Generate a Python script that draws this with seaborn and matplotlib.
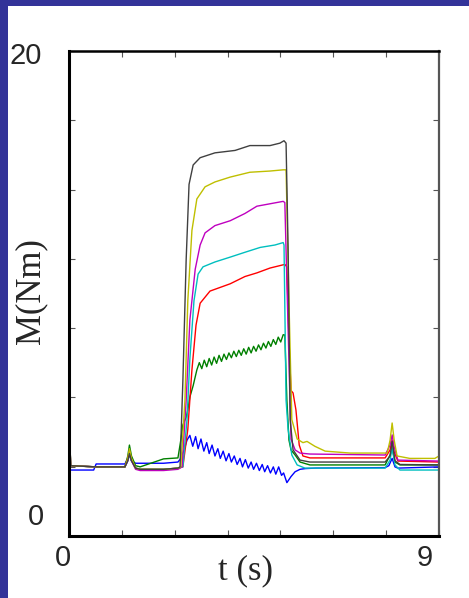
import numpy as np
import pandas as pd
import matplotlib
matplotlib.use("Agg")
import matplotlib.pyplot as plt
from matplotlib.patches import Rectangle
import seaborn as sns

# ---------------- data ----------------
pre_t = [0.0, 0.04, 0.66, 1.36, 1.43, 1.47, 1.52, 1.62, 1.73, 2.30, 2.65]

t_black = pre_t + [2.70, 2.77, 2.85, 2.92, 3.02, 3.19, 3.55, 4.04, 4.40, 4.89, 5.13, 5.23, 5.28,
                   5.33, 5.38, 5.45, 5.62, 5.86, 7.69, 7.81, 7.86, 7.93, 8.05, 9.0]
m_black = [5.0, 2.9, 2.85, 2.85, 3.1, 3.4, 3.1, 2.8, 2.75, 2.75, 2.8,
           2.85, 6.4, 11.4, 14.5, 15.3, 15.6, 15.8, 15.9, 16.1, 16.1, 16.2, 16.3, 16.2,
           11.8, 4.8, 3.55, 3.13, 3.05, 3.05, 3.3, 3.9, 3.1, 2.95, 2.93]

t_yellow = pre_t + [2.72, 2.82, 2.89, 2.99, 3.11, 3.31, 3.55, 3.92, 4.40, 4.89, 5.21, 5.28,
                    5.35, 5.42, 5.55, 5.69, 5.79, 5.98, 6.23, 6.84, 7.74, 7.81, 7.86, 7.91,
                    7.98, 8.29, 8.9, 9.0]
m_yellow = [5.0, 2.9, 2.85, 2.85, 3.2, 3.6, 3.2, 2.8, 2.75, 2.75, 2.8,
            2.85, 5.6, 9.7, 12.6, 13.9, 14.4, 14.6, 14.8, 15.0, 15.05, 15.1, 15.1,
            9.7, 4.8, 4.0, 3.85, 3.9, 3.7, 3.5, 3.42, 3.42, 3.95, 4.66, 3.95,
            3.3, 3.2, 3.2, 3.3]

t_magenta = pre_t + [2.75, 2.85, 2.94, 3.07, 3.19, 3.31, 3.55, 3.92, 4.28, 4.57, 4.89, 5.21,
                     5.25, 5.33, 5.40, 5.50, 5.62, 5.86, 7.69, 7.81, 7.86, 7.91, 8.0, 9.0]
m_magenta = [5.0, 2.9, 2.85, 2.85, 3.1, 3.4, 3.1, 2.75, 2.7, 2.7, 2.75,
             2.85, 5.6, 8.9, 11.0, 12.0, 12.5, 12.8, 13.0, 13.3, 13.6, 13.7, 13.8,
             13.75, 8.5, 4.0, 3.55, 3.42, 3.38, 3.34, 3.75, 4.17, 3.67, 3.13, 3.09]

t_cyan = pre_t + [2.77, 2.87, 2.94, 3.04, 3.14, 3.26, 3.55, 3.92, 4.28, 4.65, 5.01, 5.21,
                  5.23, 5.28, 5.33, 5.42, 5.55, 5.74, 7.69, 7.81, 7.86, 7.93, 8.05, 9.0]
m_cyan = [5.0, 2.9, 2.85, 2.85, 3.1, 3.35, 3.1, 2.8, 2.75, 2.75, 2.8,
          2.85, 4.8, 7.3, 9.7, 10.8, 11.1, 11.3, 11.5, 11.7, 11.9, 12.0, 12.1,
          12.0, 5.6, 4.4, 3.34, 2.93, 2.8, 2.8, 3.13, 3.63, 2.93, 2.72, 2.72]

t_red = pre_t + [2.77, 2.89, 2.99, 3.09, 3.19, 3.43, 3.92, 4.28, 4.57, 4.89, 5.25, 5.30,
                 5.35, 5.40, 5.45, 5.52, 5.60, 5.69, 5.86, 7.69, 7.81, 7.86, 7.91, 8.0, 9.0]
m_red = [5.0, 2.9, 2.85, 2.85, 3.2, 3.5, 3.15, 2.8, 2.75, 2.75, 2.8,
         2.85, 4.4, 6.85, 8.7, 9.6, 10.1, 10.4, 10.7, 10.85, 11.05, 11.2, 11.1,
         8.1, 6.0, 5.9, 5.2, 3.75, 3.3, 3.22, 3.22, 3.55, 3.96, 3.46, 3.09, 3.05]

t_green = pre_t + [2.72, 2.77, 2.85, 2.89, 2.94, 3.02,
                   3.11, 3.17, 3.23, 3.29, 3.35, 3.41, 3.47, 3.53, 3.59, 3.65, 3.71, 3.77,
                   3.83, 3.89, 3.95, 4.01, 4.07, 4.13, 4.19, 4.25, 4.31, 4.37, 4.43, 4.49,
                   4.55, 4.61, 4.67, 4.73, 4.79, 4.85, 4.91, 4.97, 5.03, 5.09, 5.15, 5.21,
                   5.25, 5.30, 5.35, 5.40, 5.50, 5.62, 5.86, 7.69, 7.81, 7.86, 7.93, 8.05, 9.0]
m_green = [5.2, 2.9, 2.85, 2.85, 3.3, 3.75, 3.3, 2.9, 2.85, 3.18, 3.22,
           3.96, 4.58, 4.9, 5.2, 5.73, 6.2,
           6.85, 7.15, 6.9, 7.25, 6.98, 7.32, 7.05, 7.38, 7.12, 7.45, 7.2, 7.5,
           7.28, 7.55, 7.35, 7.62, 7.4, 7.66, 7.45, 7.72, 7.5, 7.78, 7.55, 7.82,
           7.62, 7.88, 7.68, 7.95, 7.75, 8.02, 7.82, 8.1, 7.9, 8.2, 8.0, 8.3,
           8.29, 5.6, 3.96, 3.55, 3.34, 3.05, 2.93, 2.93, 3.34, 3.63, 3.05, 2.93, 2.93]

t_blue = [0.0, 0.60, 0.66, 1.36, 1.43, 1.47, 1.52, 1.62, 2.30, 2.65, 2.72, 2.80, 2.87, 2.94,
          3.01, 3.08, 3.14, 3.21, 3.28, 3.35, 3.41, 3.48, 3.55, 3.62, 3.68, 3.75, 3.82,
          3.89, 3.95, 4.02, 4.09, 4.16, 4.22, 4.29, 4.36, 4.43, 4.49, 4.56, 4.63, 4.70,
          4.76, 4.83, 4.90, 4.97, 5.03, 5.10, 5.17, 5.22, 5.30, 5.40, 5.50, 5.62, 5.75,
          6.0, 7.69, 7.78, 7.86, 7.93, 8.0, 9.0]
m_blue = [2.72, 2.72, 2.97, 2.97, 3.2, 3.35, 3.1, 3.0, 3.0, 3.05, 3.2, 3.55, 3.95, 4.15,
          3.7, 4.1, 3.6, 4.0, 3.5, 3.85, 3.4, 3.75, 3.3, 3.6, 3.2, 3.5, 3.1,
          3.4, 3.05, 3.3, 2.95, 3.2, 2.85, 3.15, 2.8, 3.05, 2.75, 3.0, 2.7, 2.95,
          2.65, 2.9, 2.6, 2.85, 2.55, 2.85, 2.5, 2.6, 2.2, 2.45, 2.65, 2.75, 2.78,
          2.8, 2.82, 2.9, 3.2, 2.85, 2.8, 2.85]

series = ["blue", "green", "red", "cyan", "magenta", "yellow", "black"]
colors = {"blue": "#0000ff", "green": "#008000", "red": "#ff0000", "cyan": "#00bfbf",
          "magenta": "#bf00bf", "yellow": "#bfbf00", "black": "#404040"}

x_ticks = list(np.linspace(0, 9, 8))
y_ticks = list(np.linspace(0, 20, 8))

# ---------------- build table ----------------
data = {"blue": (t_blue, m_blue), "green": (t_green, m_green), "red": (t_red, m_red),
        "cyan": (t_cyan, m_cyan), "magenta": (t_magenta, m_magenta),
        "yellow": (t_yellow, m_yellow), "black": (t_black, m_black)}
frames = []
for name in series:
    t, m = data[name]
    frames.append(pd.DataFrame({"t": t, "M": m, "s": name}))
df = pd.concat(frames, ignore_index=True)

# ---------------- plot ----------------
sns.set_style("ticks")
plt.rcParams["font.family"] = ["Liberation Sans", "DejaVu Sans"]

W, H = 469, 598
fig = plt.figure(figsize=(W / 100, H / 100), dpi=100, facecolor="white")
ax = fig.add_axes([69 / W, 1 - 536 / H, 370 / W, 485 / H])

sns.lineplot(data=df, x="t", y="M", hue="s", palette=colors, hue_order=series,
             sort=False, estimator=None, linewidth=1.0, legend=False, ax=ax)

ax.set_xlim(0, 9)
ax.set_ylim(0, 20)
ax.set_xticks(x_ticks)
ax.set_yticks(y_ticks)
ax.set_xticklabels([])
ax.set_yticklabels([])
ax.set_xlabel("")
ax.set_ylabel("")
ax.tick_params(direction="in", length=4, width=0.8, colors="#555555",
               top=True, right=True)
for side in ["left", "bottom"]:
    ax.spines[side].set_linewidth(2.2)
    ax.spines[side].set_color("black")
ax.spines["top"].set_linewidth(1.8)
ax.spines["top"].set_color("black")
ax.spines["right"].set_linewidth(1.6)
ax.spines["right"].set_color("#555555")

# tick labels (placed as in the reference)
fig.text(26 / W, 1 - 56 / H, "20", fontsize=21, ha="center", va="center")
fig.text(36 / W, 1 - 517 / H, "0", fontsize=21, ha="center", va="center")
fig.text(63 / W, 1 - 558 / H, "0", fontsize=21, ha="center", va="center")
fig.text(425 / W, 1 - 558 / H, "9", fontsize=21, ha="center", va="center")

# axis titles (serif)
fig.text(245 / W, 1 - 571 / H, "t (s)", fontsize=25, ha="center", va="center",
         family=["Liberation Serif", "DejaVu Serif"])
fig.text(31 / W, 1 - 291 / H, "M(Nm)", fontsize=25, ha="center", va="center",
         rotation=90, family=["Liberation Serif", "DejaVu Serif"])

# slide border strips
fig.patches.append(Rectangle((0, 0), 8 / W, 1, transform=fig.transFigure,
                             facecolor="#333399", edgecolor="none", zorder=-1))
fig.patches.append(Rectangle((0, 1 - 6 / H), 1, 6 / H, transform=fig.transFigure,
                             facecolor="#333399", edgecolor="none", zorder=-1))

fig.savefig("out.png", dpi=100, facecolor="white")
